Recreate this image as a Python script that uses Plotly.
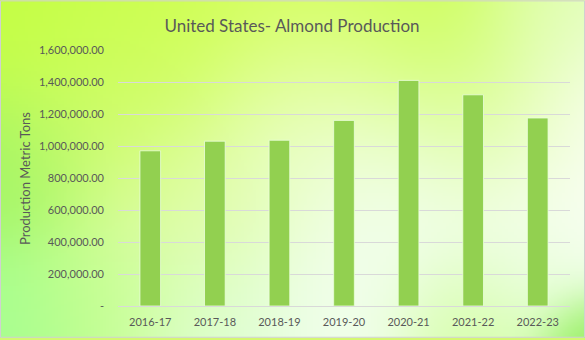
import base64
import struct
import zlib

import numpy as np
import plotly.graph_objects as go

# ---- data -------------------------------------------------------------
seasons = ["2016-17", "2017-18", "2018-19", "2019-20", "2020-21", "2021-22", "2022-23"]
production_mt = [970000, 1030000, 1036000, 1160000, 1410000, 1320000, 1175000]
y_ticks = [0, 200000, 400000, 600000, 800000, 1000000, 1200000, 1400000, 1600000]
y_tick_text = ["-" if v == 0 else f"{v:,.2f}" for v in y_ticks]

# ---- figure geometry --------------------------------------------------
W, H = 585, 340
ML, MR, MT, MB = 118, 15, 50, 32
PW, PH = W - ML - MR, H - MT - MB

GREY = "#595959"
FONT = "Lato"


# ---- soft green/white backdrop ------------------------------------------
def backdrop_png(scale=3):
    w, h = W // scale, H // scale
    xs = (np.arange(w) + 0.5) * scale
    ys = (np.arange(h) + 0.5) * scale
    X, Y = np.meshgrid(xs, ys)
    # (x, y, colour, spread)
    anchors = [
        (20, 15, (195, 255, 65), 70),
        (150, 30, (205, 255, 75), 75),
        (300, 15, (212, 255, 85), 75),
        (450, 35, (205, 255, 90), 70),
        (555, 20, (228, 255, 195), 50),
        (580, 110, (252, 255, 248), 55),
        (5, 170, (160, 245, 100), 55),
        (110, 110, (208, 252, 115), 70),
        (310, 120, (238, 255, 218), 75),
        (190, 210, (225, 253, 170), 70),
        (420, 210, (243, 255, 240), 75),
        (490, 120, (222, 255, 165), 60),
        (565, 215, (250, 255, 246), 55),
        (10, 320, (165, 255, 145), 55),
        (100, 305, (198, 255, 140), 55),
        (215, 325, (220, 255, 210), 60),
        (335, 320, (242, 255, 238), 60),
        (470, 325, (210, 255, 160), 50),
        (540, 280, (232, 255, 220), 45),
        (585, 340, (135, 238, 75), 30),
    ]
    acc = np.zeros((h, w, 3))
    wsum = np.zeros((h, w))
    for ax, ay, col, sigma in anchors:
        wt = np.exp(-((X - ax) ** 2 + (Y - ay) ** 2) / (2 * sigma ** 2))
        acc += wt[..., None] * np.array(col, dtype=float)
        wsum += wt
    img = np.clip(acc / np.maximum(wsum, 1e-12)[..., None], 0, 255).astype(np.uint8)

    raw = b"".join(b"\x00" + img[r].tobytes() for r in range(h))

    def chunk(tag, data):
        return (struct.pack(">I", len(data)) + tag + data
                + struct.pack(">I", zlib.crc32(tag + data) & 0xFFFFFFFF))

    png = (b"\x89PNG\r\n\x1a\n"
           + chunk(b"IHDR", struct.pack(">IIBBBBB", w, h, 8, 2, 0, 0, 0))
           + chunk(b"IDAT", zlib.compress(raw, 9))
           + chunk(b"IEND", b""))
    return "data:image/png;base64," + base64.b64encode(png).decode()


fig = go.Figure(
    go.Bar(
        x=seasons,
        y=production_mt,
        marker=dict(color="#92d050", line=dict(color="rgba(235,255,220,0.8)", width=1)),
        hoverinfo="x+y",
    )
)

# paper coordinates spanning the whole canvas
px0, px1 = -ML / PW, (W - ML) / PW
py0, py1 = -MB / PH, (H - MB) / PH

fig.update_layout(
    width=W,
    height=H,
    margin=dict(l=ML, r=MR, t=MT, b=MB),
    paper_bgcolor="#d4f870",
    plot_bgcolor="rgba(0,0,0,0)",
    bargap=0.68,
    showlegend=False,
    font=dict(family=FONT, color=GREY),
    title=dict(
        text="United States- Almond Production",
        x=292 / W,
        xanchor="center",
        y=1 - 26 / H,
        yanchor="middle",
        font=dict(family=FONT, size=17, color=GREY),
    ),
    images=[dict(
        source=backdrop_png(),
        xref="paper", yref="paper",
        x=px0, y=py1, sizex=px1 - px0, sizey=py1 - py0,
        xanchor="left", yanchor="top",
        sizing="stretch", layer="below",
    )],
    shapes=[dict(
        type="rect", xref="paper", yref="paper",
        x0=(0.5 - ML) / PW, x1=(W - 0.5 - ML) / PW,
        y0=(0.5 - MB) / PH, y1=(H - 0.5 - MB) / PH,
        line=dict(color="#d0d0d0", width=1), layer="above",
    )],
    annotations=[dict(
        text="Production Metric Tons",
        xref="paper", yref="paper",
        x=(25 - ML) / PW, y=(H - 180 - MB) / PH,
        xanchor="center", yanchor="middle",
        textangle=-90, showarrow=False,
        font=dict(family=FONT, size=13, color=GREY),
    )],
)

fig.update_yaxes(
    range=[0, 1600000],
    tickvals=y_ticks,
    ticktext=y_tick_text,
    showgrid=True,
    gridcolor="#d9d9d9",
    gridwidth=1,
    zeroline=False,
    showline=False,
    ticks="",
    ticklabelstandoff=13,
    tickfont=dict(family=FONT, size=11, color=GREY),
    fixedrange=True,
)
fig.update_xaxes(
    showline=True,
    linecolor="#d9d9d9",
    linewidth=1,
    ticks="",
    ticklabelstandoff=6,
    tickfont=dict(family=FONT, size=11, color=GREY),
    fixedrange=True,
)

fig.write_html("out.html", config=dict(displayModeBar=False))
